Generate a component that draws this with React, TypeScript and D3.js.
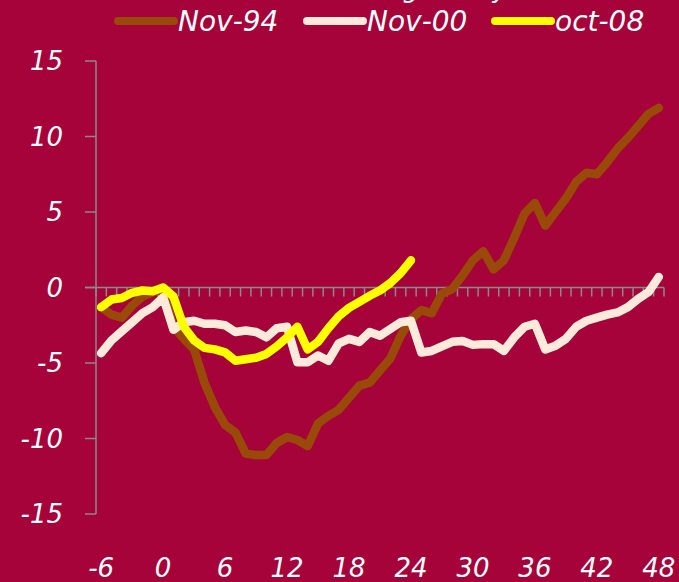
import * as d3 from 'd3';

const months: number[] = d3.range(-6, 49);
const xTickLabels: number[] = [-6, 0, 6, 12, 18, 24, 30, 36, 42, 48];
const yTickLabels: number[] = [15, 10, 5, 0, -5, -10, -15];

const seriesNames = ['Nov-94', 'Nov-00', 'oct-08'];
const seriesColors = ['#9A4A08', '#FDEADB', '#FFFF00'];

const nov94: number[] = [
    -1.3, -1.8, -2.0, -1.2, -0.6, -0.3, -0.1, -2.6, -3.4, -4.1,
    -6.3, -7.9, -9.1, -9.6, -11.0, -11.1, -11.1, -10.3, -9.9, -10.1,
    -10.5, -9.0, -8.5, -8.1, -7.3, -6.5, -6.3, -5.5, -4.7, -3.2,
    -2.1, -1.5, -1.7, -0.4, -0.1, 0.8, 1.8, 2.4, 1.2, 1.8,
    3.3, 4.9, 5.6, 4.1, 5.0, 5.9, 7.0, 7.6, 7.5, 8.3,
    9.2, 9.9, 10.7, 11.5, 11.9,
];
const nov00: number[] = [
    -4.35, -3.5, -2.9, -2.3, -1.7, -1.3, -0.65, -2.8, -2.3, -2.2,
    -2.4, -2.4, -2.5, -2.95, -2.85, -2.95, -3.3, -2.7, -2.6, -4.95,
    -4.95, -4.5, -4.85, -3.7, -3.4, -3.6, -2.95, -3.2, -2.75, -2.3,
    -2.2, -4.3, -4.2, -3.9, -3.6, -3.55, -3.8, -3.75, -3.75, -4.2,
    -3.3, -2.6, -2.4, -4.1, -3.85, -3.4, -2.6, -2.2, -2.0, -1.8,
    -1.65, -1.3, -0.75, -0.3, 0.7,
];
const oct08: number[] = [
    -1.3, -0.8, -0.7, -0.35, -0.2, -0.25, 0.0, -0.6, -2.6, -3.5,
    -4.0, -4.1, -4.3, -4.85, -4.75, -4.65, -4.4, -3.9, -3.3, -2.6,
    -4.1, -3.6, -2.7, -1.9, -1.35, -0.95, -0.55, -0.2, 0.3, 0.95,
    1.8,
];

// title sits mostly above the frame, only its descenders show
const title = 'Retail sales, avg. in% ytd';

export default function App() {
    return (
        <svg
            width={679}
            height={582}
            style={{ position: 'absolute', left: 0, top: 0, display: 'block' }}
            ref={(node: SVGSVGElement) => {
                if (!node) return;
                const svg = d3.select(node);
                svg.selectAll('*').remove();

                const width = 679;
                const height = 582;
                const font = "'DejaVu Sans', sans-serif";
                const axisColor = '#8A8A8A';

                svg.append('rect')
                    .attr('width', width)
                    .attr('height', height)
                    .attr('fill', '#A6033A');

                // scales: monthly categories, points in the middle of each band
                const x = d3.scaleBand<number>()
                    .domain(months)
                    .range([96, 664])
                    .padding(0);
                const xc = (m: number) => (x(m) || 0) + x.bandwidth() / 2;
                const y = d3.scaleLinear().domain([-15, 15]).range([514, 61]);

                const titleText = svg.append('text')
                    .text(title)
                    .attr('x', 0)
                    .attr('y', -3)
                    .attr('fill', 'white')
                    .attr('font-family', font)
                    .attr('font-style', 'italic')
                    .attr('font-size', '26px');
                const tn = titleText.node() as SVGTextElement;
                const commaOffset = tn.getSubStringLength(0, title.indexOf(','));
                titleText.attr('x', 355 - commaOffset);

                // y axis
                svg.append('line')
                    .attr('x1', 96).attr('x2', 96)
                    .attr('y1', y(15)).attr('y2', y(-15))
                    .attr('stroke', axisColor).attr('stroke-width', 1.5);
                svg.selectAll('.ytick')
                    .data(yTickLabels)
                    .join('line')
                    .attr('class', 'ytick')
                    .attr('x1', 85).attr('x2', 96)
                    .attr('y1', (d: number) => y(d)).attr('y2', (d: number) => y(d))
                    .attr('stroke', axisColor).attr('stroke-width', 1.5);
                svg.selectAll('.ylabel')
                    .data(yTickLabels)
                    .join('text')
                    .attr('class', 'ylabel')
                    .text((d: number) => d)
                    .attr('x', 63)
                    .attr('y', (d: number) => y(d) + 9)
                    .attr('text-anchor', 'end')
                    .attr('fill', 'white')
                    .attr('font-family', font)
                    .attr('font-style', 'italic')
                    .attr('font-size', '26px');

                // zero line with monthly ticks
                svg.append('line')
                    .attr('x1', 85).attr('x2', 664)
                    .attr('y1', y(0)).attr('y2', y(0))
                    .attr('stroke', axisColor).attr('stroke-width', 1.5);
                svg.selectAll('.xtick')
                    .data(months.concat([49]))
                    .join('line')
                    .attr('class', 'xtick')
                    .attr('x1', (d: number) => d === 49 ? 664 : (x(d) || 0))
                    .attr('x2', (d: number) => d === 49 ? 664 : (x(d) || 0))
                    .attr('y1', y(0)).attr('y2', y(0) + 9)
                    .attr('stroke', axisColor).attr('stroke-width', 1.5);

                svg.selectAll('.xlabel')
                    .data(xTickLabels)
                    .join('text')
                    .attr('class', 'xlabel')
                    .text((d: number) => d)
                    .attr('x', (d: number) => xc(d))
                    .attr('y', 577)
                    .attr('text-anchor', 'middle')
                    .attr('fill', 'white')
                    .attr('font-family', font)
                    .attr('font-style', 'italic')
                    .attr('font-size', '26px');

                // lines
                const line = d3.line<number>()
                    .x((_: number, i: number) => xc(months[i]))
                    .y((d: number) => y(d));
                [nov94, nov00, oct08].forEach((data, k) => {
                    svg.append('path')
                        .datum(data)
                        .attr('d', line)
                        .attr('fill', 'none')
                        .attr('stroke', seriesColors[k])
                        .attr('stroke-width', 8.5)
                        .attr('stroke-linejoin', 'round')
                        .attr('stroke-linecap', 'round');
                });

                // legend
                const legendX = [118, 307, 495];
                seriesNames.forEach((name, k) => {
                    svg.append('line')
                        .attr('x1', legendX[k]).attr('x2', legendX[k] + 56)
                        .attr('y1', 21).attr('y2', 21)
                        .attr('stroke', seriesColors[k])
                        .attr('stroke-width', 8)
                        .attr('stroke-linecap', 'round');
                    svg.append('text')
                        .text(name)
                        .attr('x', legendX[k] + 60)
                        .attr('y', 31)
                        .attr('fill', 'white')
                        .attr('font-family', font)
                        .attr('font-style', 'italic')
                        .attr('font-size', '28px');
                });
            }}
        />
    );
}
